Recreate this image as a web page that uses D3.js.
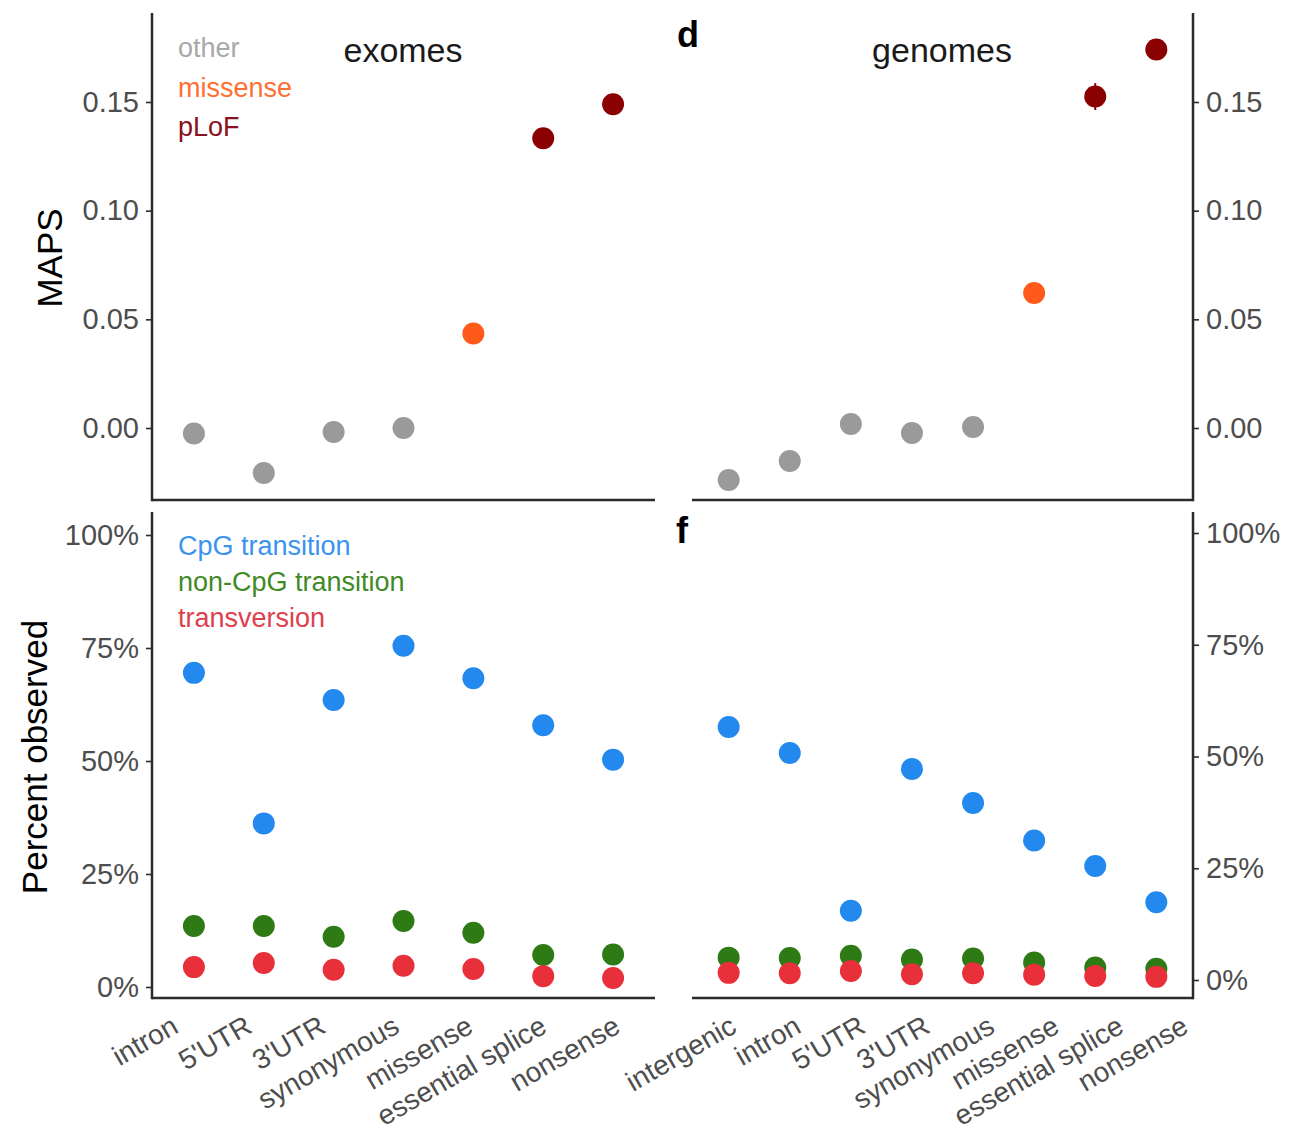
<!DOCTYPE html>
<html>
<head>
<meta charset="utf-8">
<script src="https://cdn.jsdelivr.net/npm/d3@7"></script>
<style>
  body { margin: 0; background: #fff; }
  text { font-family: "Liberation Sans", Arial, Helvetica, sans-serif; }
</style>
</head>
<body>
<div id="chart"></div>
<script>
var width = 1294
var height = 1145

// categories
var exomeCats = ["intron", "5'UTR", "3'UTR", "synonymous", "missense", "essential splice", "nonsense"]
var genomeCats = ["intergenic", "intron", "5'UTR", "3'UTR", "synonymous", "missense", "essential splice", "nonsense"]

// MAPS values
var exomeMaps = [-0.0025, -0.0207, -0.0018, 0.0000, 0.0435, 0.1333, 0.1490]
var genomeMaps = [-0.0239, -0.0152, 0.0018, -0.0023, 0.0005, 0.0621, 0.1525, 0.1742]
var genomeMapsErr = [0.001, 0.001, 0.002, 0.001, 0.001, 0.002, 0.0062, 0.003]
var mapsClass = {"missense": "missense", "essential splice": "pLoF", "nonsense": "pLoF"}

// percent observed
var exomeCpG = [0.695, 0.362, 0.635, 0.755, 0.683, 0.579, 0.503]
var exomeNonCpG = [0.135, 0.135, 0.111, 0.146, 0.120, 0.071, 0.072]
var exomeTransv = [0.044, 0.053, 0.038, 0.047, 0.040, 0.024, 0.020]
var genomeCpG = [0.566, 0.508, 0.155, 0.472, 0.396, 0.312, 0.255, 0.174]
var genomeNonCpG = [0.050, 0.049, 0.054, 0.046, 0.048, 0.039, 0.028, 0.025]
var genomeTransv = [0.016, 0.015, 0.020, 0.013, 0.015, 0.012, 0.009, 0.007]

// ticks
var mapsTicks = [0, 0.05, 0.10, 0.15]
var pctTicks = [0, 0.25, 0.5, 0.75, 1]

var mapsLegend = [
    {name: "other", color: "#9a9a9a", text: "#a8a8a8"},
    {name: "missense", color: "#ff5a1a", text: "#ff6f33"},
    {name: "pLoF", color: "#8b0000", text: "#8b1020"}
]
var mutLegend = [
    {name: "CpG transition", color: "#2389ee", text: "#3b93ee"},
    {name: "non-CpG transition", color: "#2e7a14", text: "#3f8a25"},
    {name: "transversion", color: "#e8303b", text: "#e0404e"}
]

var leftX = [152, 655], rightX = [692, 1193]
var topY = [13, 500], botY = [512, 998]
var axisColor = "#2b2b2b", tickText = "#4d4d4d"

var xExome = d3.scalePoint().domain(exomeCats).range(leftX).padding(0.6)
var xGenome = d3.scalePoint().domain(genomeCats).range(rightX).padding(0.6)
// label positions of the tick text (slightly wider spacing than the points)
var xExomeLab = d3.scalePoint().domain(exomeCats).range([170, 612])
var xGenomeLab = d3.scalePoint().domain(genomeCats).range([728, 1180])

var yMaps = d3.scaleLinear().domain([0, 0.15]).range([428, 102])
var yPctL = d3.scaleLinear().domain([0, 1]).range([987, 535])
var yPctR = d3.scaleLinear().domain([0, 1]).range([980, 533])

var svg = d3.select('#chart')
    .append('svg')
    .attr('width', width)
    .attr('height', height)

function mapsColor(cat) {
    var cls = mapsClass[cat] || "other"
    return mapsLegend.find(function (d) { return d.name === cls }).color
}

function axisLines(xr, yr, side) {
    var g = svg.append('g')
    g.append('line')
        .attr('x1', xr[0]).attr('x2', xr[1])
        .attr('y1', yr[1]).attr('y2', yr[1])
        .attr('stroke', axisColor).attr('stroke-width', 2.5)
    var ax = side === 'left' ? xr[0] : xr[1]
    g.append('line')
        .attr('x1', ax).attr('x2', ax)
        .attr('y1', yr[0]).attr('y2', yr[1] + 1.2)
        .attr('stroke', axisColor).attr('stroke-width', 2.5)
}

function yAxis(scale, ticks, fmt, side, xpos) {
    var axis = side === 'left' ? d3.axisLeft(scale) : d3.axisRight(scale)
    axis.tickValues(ticks).tickFormat(fmt).tickSize(6).tickPadding(7)
    var g = svg.append('g')
        .attr('transform', 'translate(' + xpos + ',0)')
        .call(axis)
    g.select('.domain').remove()
    g.selectAll('.tick line').attr('stroke', axisColor).attr('stroke-width', 1.6)
    g.selectAll('.tick text')
        .attr('fill', tickText)
        .style('font-size', '29px')
        .style('font-family', '"Liberation Sans", Arial, sans-serif')
}

function xLabels(cats, labScale) {
    svg.append('g').selectAll('text')
        .data(cats)
        .enter()
        .append('text')
        .attr('transform', function (d) { return 'translate(' + labScale(d) + ',1014) rotate(-30)' })
        .attr('text-anchor', 'end')
        .attr('dy', '0.72em')
        .attr('fill', tickText)
        .style('font-size', '28px')
        .text(function (d) { return d })
}

function dots(cats, values, xs, ys, color) {
    svg.append('g').selectAll('circle')
        .data(values)
        .enter()
        .append('circle')
        .attr('cx', function (d, i) { return xs(cats[i]) })
        .attr('cy', function (d) { return ys(d) })
        .attr('r', 11)
        .attr('fill', typeof color === 'function' ? function (d, i) { return color(cats[i]) } : color)
}

// axes frames
axisLines(leftX, topY, 'left')
axisLines(rightX, topY, 'right')
axisLines(leftX, botY, 'left')
axisLines(rightX, botY, 'right')

yAxis(yMaps, mapsTicks, d3.format('.2f'), 'left', leftX[0])
yAxis(yMaps, mapsTicks, d3.format('.2f'), 'right', rightX[1])
yAxis(yPctL, pctTicks, d3.format('.0%'), 'left', leftX[0])
yAxis(yPctR, pctTicks, d3.format('.0%'), 'right', rightX[1])

xLabels(exomeCats, xExomeLab)
xLabels(genomeCats, xGenomeLab)

// MAPS panels
svg.append('g').selectAll('line')
    .data(genomeMaps)
    .enter()
    .append('line')
    .attr('x1', function (d, i) { return xGenome(genomeCats[i]) })
    .attr('x2', function (d, i) { return xGenome(genomeCats[i]) })
    .attr('y1', function (d, i) { return yMaps(d - genomeMapsErr[i]) })
    .attr('y2', function (d, i) { return yMaps(d + genomeMapsErr[i]) })
    .attr('stroke', function (d, i) { return mapsColor(genomeCats[i]) })
    .attr('stroke-width', 2)
dots(exomeCats, exomeMaps, xExome, yMaps, mapsColor)
dots(genomeCats, genomeMaps, xGenome, yMaps, mapsColor)

// percent observed panels
dots(exomeCats, exomeCpG, xExome, yPctL, mutLegend[0].color)
dots(exomeCats, exomeNonCpG, xExome, yPctL, mutLegend[1].color)
dots(exomeCats, exomeTransv, xExome, yPctL, mutLegend[2].color)
dots(genomeCats, genomeCpG, xGenome, yPctR, mutLegend[0].color)
dots(genomeCats, genomeNonCpG, xGenome, yPctR, mutLegend[1].color)
dots(genomeCats, genomeTransv, xGenome, yPctR, mutLegend[2].color)

// legends
svg.append('g').selectAll('text')
    .data(mapsLegend)
    .enter()
    .append('text')
    .attr('x', 178)
    .attr('y', function (d, i) { return 57 + i * 39.5 })
    .attr('fill', function (d) { return d.text })
    .style('font-size', '27px')
    .text(function (d) { return d.name })

svg.append('g').selectAll('text')
    .data(mutLegend)
    .enter()
    .append('text')
    .attr('x', 178)
    .attr('y', function (d, i) { return 555 + i * 36 })
    .attr('fill', function (d) { return d.text })
    .style('font-size', '27px')
    .text(function (d) { return d.name })

// panel titles
svg.append('text').attr('x', 403).attr('y', 62).attr('text-anchor', 'middle')
    .attr('fill', '#1a1a1a').style('font-size', '34px').text('exomes')
svg.append('text').attr('x', 942).attr('y', 62).attr('text-anchor', 'middle')
    .attr('fill', '#1a1a1a').style('font-size', '34px').text('genomes')
svg.append('text').attr('x', 688).attr('y', 47).attr('text-anchor', 'middle')
    .attr('fill', '#000').style('font-size', '36px').style('font-weight', 'bold').text('d')
svg.append('text').attr('x', 682).attr('y', 543).attr('text-anchor', 'middle')
    .attr('fill', '#000').style('font-size', '36px').style('font-weight', 'bold').text('f')

// axis titles
svg.append('text').attr('transform', 'translate(62,258) rotate(-90)')
    .attr('text-anchor', 'middle').attr('fill', '#000').style('font-size', '35px').text('MAPS')
svg.append('text').attr('transform', 'translate(47,757) rotate(-90)')
    .attr('text-anchor', 'middle').attr('fill', '#000').style('font-size', '35px').text('Percent observed')
</script>
</body>
</html>
